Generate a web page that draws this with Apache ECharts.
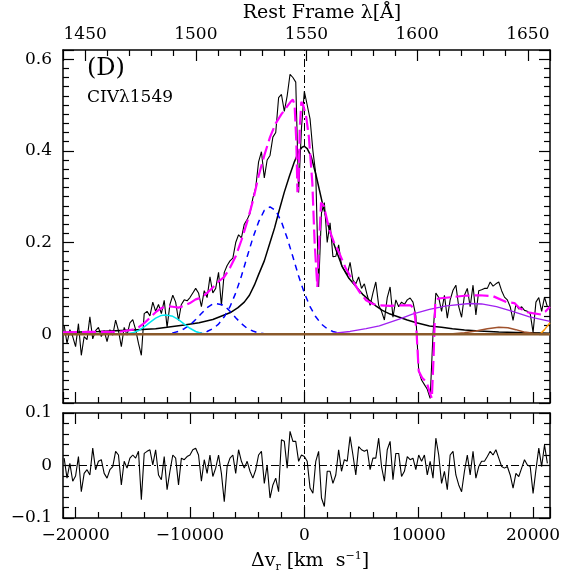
<!DOCTYPE html>
<html>
<head>
<meta charset="utf-8">
<script src="https://cdn.jsdelivr.net/npm/echarts@6/dist/echarts.min.js"></script>
<style>
  html, body { margin: 0; padding: 0; background: #fff; }
  #chart { width: 581px; height: 581px; }
</style>
</head>
<body>
<div id="chart"></div>
<script>
// ---- data ----
// velocity range of the plot (km/s) and matching rest-frame wavelength range (Å)
const vRange = [-21100, 21480]
const lamRange = [1440, 1660]

// observed spectrum + residuals, sampled every 250 km/s from -21000
const vStart = -21000
const vStep = 250
const fluxObs = [
  0.02, -0.02, 0.01, -0.005, -0.027, 0.023, -0.046, -0.005, -0.012, 0.038,
  -0.01, 0.008, 0.015, -0.005, 0.008, -0.016, 0.01, -0.002, 0.031, 0.008,
  -0.027, 0.015, -0.002, 0.025, 0.032, 0.01, -0.02, -0.046, 0.045, 0.05,
  0.04, 0.07, 0.05, 0.065, 0.045, 0.074, 0.015, 0.065, 0.085, 0.07,
  0.03, 0.065, 0.075, 0.073, 0.08, 0.09, 0.1, 0.09, 0.06, 0.095,
  0.08, 0.125, 0.09, 0.1, 0.135, 0.063, 0.135, 0.15, 0.16, 0.166,
  0.2, 0.217, 0.21, 0.24, 0.25, 0.264, 0.297, 0.32, 0.376, 0.398,
  0.341, 0.38, 0.39, 0.43, 0.44, 0.516, 0.523, 0.486, 0.52, 0.567,
  0.56, 0.55, 0.309, 0.45, 0.53, 0.5, 0.47, 0.4, 0.35, 0.103,
  0.265, 0.287, 0.2, 0.243, 0.169, 0.17, 0.195, 0.15, 0.14, 0.13,
  0.157, 0.118, 0.11, 0.125, 0.1, 0.11, 0.085, 0.063, 0.09, 0.114,
  0.063, 0.05, 0.031, 0.08, 0.103, 0.037, 0.075, 0.06, 0.07, 0.065,
  0.075, 0.079, 0.07, 0.04, -0.08, -0.1, -0.11, -0.12, -0.14, 0.0,
  0.09, 0.08, 0.05, 0.085, 0.035, 0.075, 0.096, 0.107, 0.06, 0.037,
  0.085, 0.1, 0.06, 0.107, 0.042, 0.095, 0.097, 0.1, 0.1, 0.114,
  0.105, 0.11, 0.114, 0.095, 0.081, 0.075, 0.06, 0.03, 0.065, 0.055,
  0.06, 0.052, 0.05, 0.045, 0.004, 0.07, 0.08, 0.05, 0.081, 0.06
]
const resid = [
  0.014, -0.024, 0.004, -0.03, -0.02, 0.017, -0.05, -0.015, -0.008, -0.018,
  0.033, -0.008, 0.008, 0.011, -0.015, -0.024, -0.008, -0.002, 0.027, 0.02,
  -0.037, 0.008, -0.005, 0.014, 0.02, 0.014, 0.027, -0.065, 0.023, 0.027,
  0.03, 0.001, 0.03, -0.018, -0.027, 0.017, -0.046, -0.011, 0.02, 0.014,
  -0.037, 0.014, 0.011, 0.017, 0.02, 0.03, 0.033, 0.02, -0.03, 0.011,
  -0.015, 0.02, -0.021, -0.005, 0.02, -0.015, -0.069, -0.002, 0.014, 0.02,
  -0.015, 0.03, 0.008, -0.005, 0.008, -0.011, -0.024, -0.008, 0.02, 0.027,
  -0.034, 0.001, -0.062, -0.037, -0.024, -0.05, 0.049, 0.046, -0.005, 0.065,
  0.046, 0.046, 0.008, 0.02, 0.017, 0.008, -0.043, -0.053, 0.008, 0.027,
  -0.062, -0.078, -0.011, -0.011, -0.034, -0.018, 0.03, -0.011, 0.011, 0.008,
  0.055, 0.02, -0.018, 0.036, 0.03, 0.027, 0.03, -0.008, 0.014, 0.014,
  0.052, -0.002, -0.03, 0.03, 0.046, -0.027, 0.023, 0.023, -0.021, -0.011,
  0.017, 0.011, 0.014, -0.008, 0.02, 0.008, 0.02, -0.018, 0.008, -0.024,
  0.052, 0.02, -0.034, -0.011, -0.046, 0.02, 0.027, -0.018, -0.037, -0.05,
  -0.011, 0.02, -0.018, 0.027, -0.024, -0.002, 0.008, 0.008, 0.017, 0.027,
  0.02, 0.03, 0.014, -0.002, -0.005, -0.002, -0.018, -0.043, -0.015, -0.021,
  -0.005, 0.011, 0.001, -0.002, -0.053, -0.008, 0.033, -0.002, 0.039, 0.004
]

// total fit (magenta)
const fitTotal = [
  [-21100, 0.004], [-19000, 0.005], [-17000, 0.005], [-16000, 0.006], [-15000, 0.01],
  [-14500, 0.015], [-14000, 0.024], [-13500, 0.036], [-13000, 0.048], [-12500, 0.057],
  [-12000, 0.061], [-11500, 0.06], [-11000, 0.058], [-10500, 0.062], [-10000, 0.068],
  [-9500, 0.076], [-9000, 0.08], [-8500, 0.09], [-8000, 0.102], [-7500, 0.115],
  [-7000, 0.125], [-6500, 0.145], [-6000, 0.17], [-5500, 0.205], [-5000, 0.245],
  [-4500, 0.29], [-4000, 0.345], [-3500, 0.39], [-3000, 0.43], [-2500, 0.46],
  [-2000, 0.48], [-1500, 0.497], [-1200, 0.507], [-1000, 0.512], [-850, 0.5],
  [-700, 0.42], [-600, 0.31], [-500, 0.33], [-400, 0.45], [-260, 0.507],
  [-100, 0.5], [170, 0.473], [400, 0.43], [700, 0.33], [900, 0.2],
  [1140, 0.103], [1300, 0.2], [1460, 0.287], [1700, 0.28], [2200, 0.227],
  [2600, 0.2], [3060, 0.177], [3600, 0.145], [4200, 0.118], [4800, 0.093],
  [5400, 0.074], [6000, 0.066], [6560, 0.063], [7500, 0.062], [8300, 0.063],
  [9300, 0.063], [9600, 0.055], [9800, 0.01], [10000, -0.08], [10300, -0.095],
  [10700, -0.105], [11000, -0.13], [11150, -0.14], [11300, -0.05], [11450, 0.07],
  [11700, 0.078], [12950, 0.081], [14000, 0.084], [15300, 0.085], [16500, 0.083],
  [17670, 0.07], [18370, 0.068], [18800, 0.057], [19500, 0.048], [19950, 0.046],
  [20700, 0.043], [21100, 0.05], [21480, 0.06]
]
// broad lorentzian-like component (black)
const compBroad = [
  [-21100, 0.004], [-18000, 0.006], [-15000, 0.009], [-13000, 0.012], [-12000, 0.015],
  [-10500, 0.02], [-9200, 0.025], [-8000, 0.032], [-7000, 0.042], [-6400, 0.048],
  [-5800, 0.058], [-5250, 0.07], [-4800, 0.085], [-4370, 0.107], [-4000, 0.13],
  [-3500, 0.16], [-3000, 0.2], [-2600, 0.232], [-2200, 0.27], [-1750, 0.31],
  [-1300, 0.345], [-870, 0.376], [-500, 0.398], [-200, 0.408], [0, 0.41],
  [250, 0.405], [610, 0.387], [1050, 0.344], [1570, 0.287], [2000, 0.245],
  [2450, 0.206], [2900, 0.175], [3320, 0.147], [3900, 0.122], [4550, 0.103],
  [5100, 0.087], [5690, 0.074], [6250, 0.062], [6820, 0.052], [7500, 0.044],
  [8310, 0.037], [9000, 0.031], [9800, 0.025], [10940, 0.018], [12000, 0.015],
  [12950, 0.012], [14000, 0.009], [15300, 0.007], [17000, 0.005], [18500, 0.004],
  [20000, 0.003], [21480, 0.002]
]
// blueshifted gaussians (blue dashed)
const compBlue1 = [
  [-9500, 0.001], [-9000, 0.003], [-8500, 0.006], [-8000, 0.012], [-7500, 0.022],
  [-7000, 0.038], [-6500, 0.06], [-6000, 0.09], [-5500, 0.127], [-5000, 0.169],
  [-4500, 0.21], [-4000, 0.245], [-3500, 0.27], [-3000, 0.278], [-2500, 0.27],
  [-2000, 0.245], [-1500, 0.21], [-1000, 0.169], [-500, 0.127], [0, 0.09],
  [500, 0.06], [1000, 0.038], [1500, 0.022], [2000, 0.012], [2500, 0.006],
  [3000, 0.003], [3500, 0.001]
]
const compBlue2 = [
  [-12500, 0.001], [-12000, 0.001], [-11500, 0.003], [-11000, 0.006], [-10500, 0.012],
  [-10000, 0.02], [-9500, 0.032], [-9000, 0.045], [-8500, 0.058], [-8000, 0.066],
  [-7700, 0.067], [-7000, 0.063], [-6500, 0.05], [-6000, 0.036], [-5500, 0.023],
  [-5000, 0.013], [-4500, 0.007], [-4000, 0.003], [-3500, 0.001], [-3000, 0]
]
// cyan gaussian
const compCyan = [
  [-16000, 0], [-15500, 0.001], [-15000, 0.003], [-14500, 0.008], [-14000, 0.016],
  [-13500, 0.026], [-13000, 0.035], [-12500, 0.041], [-12100, 0.042], [-11500, 0.039],
  [-11000, 0.032], [-10500, 0.022], [-10000, 0.013], [-9500, 0.006], [-9000, 0.002],
  [-8500, 0]
]
// purple broad red bump
const compPurple = [
  [-2000, 0], [0, 0.001], [2450, 0.002], [4000, 0.006], [5400, 0.012],
  [6560, 0.018], [8300, 0.033], [9450, 0.044], [10940, 0.054], [12420, 0.062],
  [14440, 0.067], [15500, 0.066], [16800, 0.06], [18200, 0.05], [19690, 0.038],
  [21480, 0.028]
]
// brown: zero continuum and small bump, orange rise at the edge
const compBrownBase = [[-21100, 0], [21480, 0]]
const compBrownBump = [
  [12000, 0], [13000, 0.001], [14000, 0.003], [15000, 0.007], [16000, 0.012],
  [17000, 0.015], [17800, 0.014], [18500, 0.01], [19200, 0.005], [20000, 0.002],
  [21000, 0]
]
const compOrange = [[20600, 0], [21000, 0.01], [21480, 0.025]]

// ---- chart ----
const FONT = 'DejaVu Serif'
const vGrid = fluxObs.map((f, i) => vStart + i * vStep)
const minus = v => String(v).replace('-', '\u2212')

function frameAxis (extra) {
  return Object.assign({
    type: 'value',
    axisLine: { show: true, onZero: false, lineStyle: { color: '#000', width: 1.5 } },
    axisTick: { show: true, inside: true, length: 11, lineStyle: { color: '#000', width: 1.2 } },
    minorTick: { show: true, splitNumber: 5, length: 6, lineStyle: { color: '#000', width: 1.2 } },
    splitLine: { show: false },
    axisLabel: { show: false }
  }, extra)
}
function labels (margin) {
  return {
    show: true,
    showMinLabel: false,
    showMaxLabel: false,
    margin: margin,
    color: '#000',
    fontFamily: FONT,
    fontSize: 17,
    formatter: minus
  }
}
function line (name, data, color, width, type, xi, yi, z) {
  return {
    name: name,
    type: 'line',
    xAxisIndex: xi || 0,
    yAxisIndex: yi || 0,
    data: data,
    showSymbol: false,
    symbol: 'none',
    silent: true,
    z: z || 2,
    lineStyle: { color: color, width: width, type: type || 'solid' }
  }
}

const dashDot = [8, 3, 2, 3]
const yMinor = { show: true, splitNumber: 10, length: 6, lineStyle: { color: '#000', width: 1.2 } }

const option = {
  animation: false,
  backgroundColor: '#fff',
  grid: [
    { left: 63, top: 50, width: 487, height: 353 },
    { left: 63, top: 413, width: 487, height: 105 }
  ],
  xAxis: [
    frameAxis({ gridIndex: 0, position: 'bottom', min: vRange[0], max: vRange[1] }),
    frameAxis({ gridIndex: 0, position: 'top', min: lamRange[0], max: lamRange[1], axisLabel: labels(7) }),
    frameAxis({ gridIndex: 1, position: 'bottom', min: vRange[0], max: vRange[1], axisLabel: labels(9) }),
    frameAxis({ gridIndex: 1, position: 'top', min: vRange[0], max: vRange[1] })
  ],
  yAxis: [
    frameAxis({ gridIndex: 0, position: 'left', min: -0.15, max: 0.62, minorTick: yMinor, axisLabel: labels(11) }),
    frameAxis({ gridIndex: 0, position: 'right', min: -0.15, max: 0.62, minorTick: yMinor }),
    frameAxis({ gridIndex: 1, position: 'left', min: -0.1, max: 0.1, interval: 0.1, axisLabel: Object.assign(labels(11), { showMinLabel: true, showMaxLabel: true }) }),
    frameAxis({ gridIndex: 1, position: 'right', min: -0.1, max: 0.1, interval: 0.1 })
  ],
  graphic: [
    { type: 'text', left: 87, top: 57, style: { text: '(D)', font: '24px "DejaVu Serif"', fill: '#000' } },
    { type: 'text', left: 87, top: 89, style: { text: 'CIV\u03bb1549', font: '17px "DejaVu Serif"', fill: '#000' } },
    { type: 'text', x: 322, y: 4, style: { text: 'Rest Frame \u03bb[\u00c5]', font: '19px "DejaVu Serif"', fill: '#000', align: 'center' } },
    {
      type: 'text',
      x: 310,
      y: 550,
      style: {
        text: '{a|\u0394v}{s|r}{a| [km  s}{p|\u22121}{a|]}',
        align: 'center',
        fill: '#000',
        rich: {
          a: { fontFamily: FONT, fontSize: 19, color: '#000' },
          s: { fontFamily: FONT, fontSize: 11, color: '#000', padding: [12, 0, 0, 0] },
          p: { fontFamily: FONT, fontSize: 11, color: '#000', padding: [0, 0, 10, 0] }
        }
      }
    }
  ],
  series: [
    line('zero', compBrownBase, '#8B5A2B', 2.5, 'solid', 0, 0, 6),
    Object.assign(line('spectrum', vGrid.map((v, i) => [v, fluxObs[i]]), '#000', 1.1, 'solid', 0, 0, 3), {
      markLine: {
        silent: true,
        symbol: 'none',
        label: { show: false },
        lineStyle: { color: '#000', width: 1, type: dashDot },
        data: [{ xAxis: 0 }]
      }
    }),
    line('broad', compBroad, '#000', 1.5, 'solid', 0, 0, 4),
    line('blue1', compBlue1, '#0000FF', 1.5, [6, 5], 0, 0, 4),
    line('blue2', compBlue2, '#0000FF', 1.5, [6, 5], 0, 0, 4),
    line('cyan', compCyan, '#00E5EE', 1.5, 'solid', 0, 0, 4),
    line('purple', compPurple, '#A020F0', 1.3, 'solid', 0, 0, 4),
    line('brownBump', compBrownBump, '#A0522D', 1.5, 'solid', 0, 0, 4),
    line('orange', compOrange, '#FF9900', 1.5, 'solid', 0, 0, 4),
    line('total', fitTotal, '#FF00FF', 2.2, [14, 5], 0, 0, 5),
    Object.assign(line('resid', vGrid.map((v, i) => [v, resid[i]]), '#000', 1.1, 'solid', 2, 2, 3), {
      markLine: {
        silent: true,
        symbol: 'none',
        label: { show: false },
        lineStyle: { color: '#000', width: 1, type: dashDot },
        data: [{ xAxis: 0 }, { yAxis: 0 }]
      }
    })
  ]
}

const chart = echarts.init(document.getElementById('chart'), null, { renderer: 'canvas' })
chart.setOption(option)
</script>
</body>
</html>
